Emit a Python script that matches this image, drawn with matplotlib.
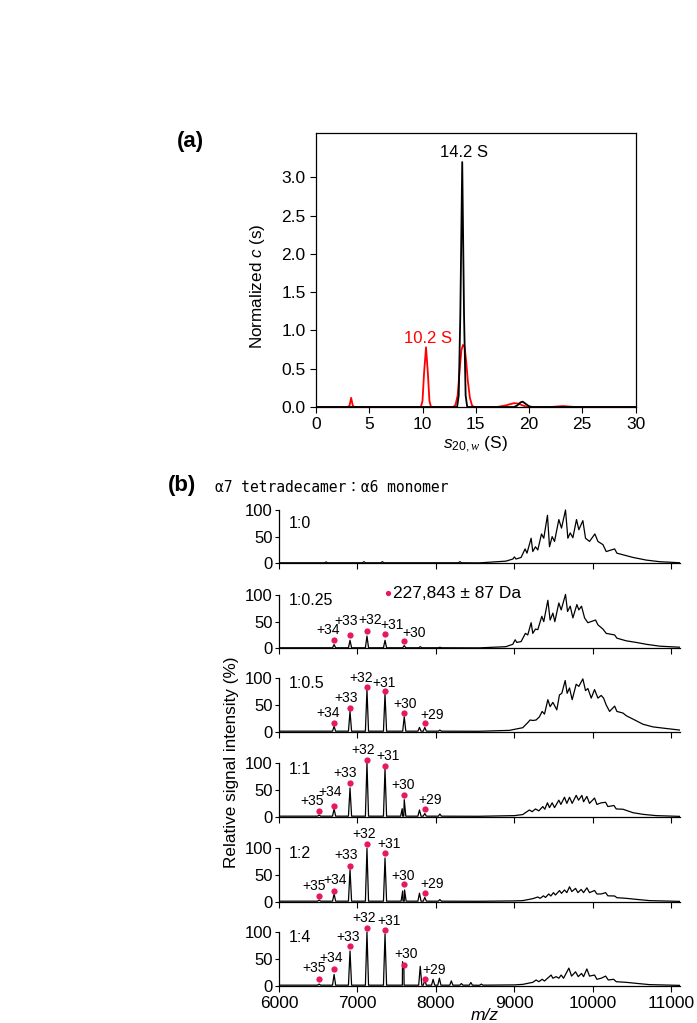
import numpy as np
import matplotlib
matplotlib.use('Agg')
import matplotlib.pyplot as plt

plt.rcParams['font.family'] = ['Liberation Sans', 'DejaVu Sans']
plt.rcParams['mathtext.fontset'] = 'custom'
plt.rcParams['mathtext.rm'] = 'Liberation Sans'
plt.rcParams['mathtext.sf'] = 'Liberation Sans:italic'
plt.rcParams['mathtext.it'] = 'Liberation Serif:italic'

# ---- (a) sedimentation coefficient distributions ----
s_black = [0, 13.25, 13.4, 13.55, 13.73, 13.9, 14.05, 14.2, 18.6, 18.9, 19.2, 19.4, 19.7, 20.0, 20.3, 30]
c_black = [0, 0, 0.15, 1.2, 3.2, 1.2, 0.15, 0, 0, 0.02, 0.06, 0.07, 0.04, 0.01, 0, 0]

s_red = [0, 3.0, 3.15, 3.3, 3.45, 3.6,
         9.85, 10.0, 10.15, 10.33, 10.5, 10.65, 10.8,
         12.9, 13.1, 13.3, 13.5, 13.65, 13.8, 13.95, 14.1, 14.25, 14.45, 14.65, 14.85,
         17.0, 17.8, 18.3, 18.6, 19.0, 19.4, 19.8, 20.2,
         22.0, 23.2, 24.3, 30]
c_red = [0, 0, 0.02, 0.12, 0.02, 0,
         0, 0.08, 0.45, 0.78, 0.45, 0.08, 0,
         0, 0.03, 0.15, 0.5, 0.74, 0.81, 0.79, 0.6, 0.35, 0.12, 0.02, 0,
         0, 0.02, 0.04, 0.05, 0.045, 0.02, 0.005, 0,
         0, 0.012, 0, 0]

# ---- (b) native mass spectra ----
samples = ['1:0', '1:0.25', '1:0.5', '1:1', '1:2', '1:4']
ion_labels = ['+35', '+34', '+33', '+32', '+31', '+30', '+29']
ion_mz = [6511, 6702, 6905, 7121, 7351, 7596, 7858]

# sharp peaks below 8600 m/z (position, relative intensity)
peak_mz = {
    '1:0': [6600, 7082, 7317, 8305],
    '1:0.25': [6702, 6905, 7121, 7351, 7596, 7800, 8050],
    '1:0.5': [6702, 6905, 7121, 7351, 7596, 7790, 7858, 8050],
    '1:1': [6511, 6702, 6905, 7121, 7351, 7570, 7596, 7790, 7858, 8050],
    '1:2': [6511, 6702, 6905, 7121, 7351, 7576, 7600, 7790, 7858, 8050],
    '1:4': [6511, 6702, 6905, 7121, 7351, 7574, 7592, 7800, 7858, 7964, 8044, 8196, 8324, 8445, 8578],
}
peak_h = {
    '1:0': [2.5, 3, 3, 3],
    '1:0.25': [7, 15, 23, 15, 5, 3, 2],
    '1:0.5': [10, 38, 79, 71, 28, 8, 8, 3],
    '1:1': [3, 14.5, 54, 101, 90, 15, 32, 12.6, 6, 5],
    '1:2': [3, 14.5, 60, 100, 82, 20, 22, 16, 8, 4],
    '1:4': [3, 21, 65, 100.6, 97, 45, 30, 36.5, 10, 12, 14, 9, 4, 6, 3],
}

# broad envelope of the tetradecamer (m/z, relative intensity)
env_mz = {
    '1:0': [8550, 8890, 8980, 9000, 9020, 9085, 9136, 9160, 9213, 9234, 9268, 9298, 9345, 9374, 9421,
            9447, 9481, 9511, 9566, 9600, 9651, 9681, 9711, 9745, 9791, 9821, 9872, 9906, 9957, 10025,
            10064, 10128, 10170, 10277, 10306, 10383, 10511, 10681, 10851, 11110],
    '1:0.25': [8550, 8890, 8979, 9009, 9030, 9085, 9140, 9170, 9213, 9234, 9268, 9298, 9349, 9374, 9426,
               9455, 9490, 9515, 9566, 9596, 9651, 9677, 9711, 9745, 9796, 9821, 9855, 9894, 9936, 10034,
               10064, 10128, 10170, 10277, 10306, 10425, 10553, 10681, 10851, 11110],
    '1:0.5': [8550, 8936, 9000, 9106, 9170, 9200, 9234, 9277, 9319, 9353, 9383, 9426, 9455, 9490, 9540,
              9574, 9604, 9647, 9672, 9702, 9736, 9787, 9821, 9872, 9906, 9936, 9979, 10021, 10064, 10106,
              10136, 10170, 10213, 10277, 10306, 10383, 10425, 10519, 10638, 10766, 10936, 11110],
    '1:1': [8550, 9000, 9106, 9191, 9226, 9268, 9311, 9362, 9387, 9421, 9447, 9481, 9511, 9566, 9592,
            9638, 9668, 9702, 9736, 9787, 9817, 9860, 9881, 9923, 9957, 10021, 10051, 10106, 10162, 10191,
            10268, 10298, 10383, 10511, 10638, 10808, 11110],
    '1:2': [8550, 9000, 9106, 9234, 9298, 9328, 9370, 9396, 9438, 9464, 9498, 9523, 9574, 9600, 9638,
            9668, 9702, 9732, 9779, 9809, 9851, 9881, 9923, 9957, 10021, 10051, 10106, 10162, 10191, 10277,
            10306, 10425, 10553, 10723, 11110],
    '1:4': [8550, 9000, 9106, 9234, 9277, 9311, 9353, 9383, 9468, 9490, 9532, 9566, 9596, 9626, 9694,
            9728, 9779, 9813, 9855, 9881, 9923, 9957, 10021, 10051, 10106, 10162, 10196, 10264, 10298, 10425,
            10553, 10723, 11110],
}
env_h = {
    '1:0': [0.8, 4, 8, 12, 8, 11, 27, 19, 47, 22, 31, 25, 55, 47, 90,
            31, 50, 41, 82, 66, 100, 47, 57, 48, 82, 63, 80, 47, 41, 55,
            41, 35, 22, 27, 19, 16, 11, 6, 3, 1],
    '1:0.25': [0.8, 3, 7.5, 16, 11, 12.6, 28, 25, 48, 28, 36, 35, 60, 50, 90,
               53, 66, 50, 85, 72, 101, 69, 79, 57, 82, 72, 79, 57, 48, 53,
               44, 36, 28, 25, 19, 14, 11, 7.5, 4, 2],
    '1:0.5': [0.8, 2.5, 4.4, 7.5, 17, 22, 21, 22, 28, 38, 33, 60, 47, 55, 41,
              69, 72, 96, 72, 82, 60, 89, 85, 99, 77, 81, 63, 79, 63, 68,
              63, 50, 38, 48, 38, 35, 30, 23, 14, 9, 6, 3],
    '1:1': [0.8, 2, 4, 12.6, 9.4, 14.5, 11, 19, 14, 26, 17, 26, 17, 31, 23,
            36.5, 25, 36.5, 25, 40, 31, 40, 28, 38, 25, 35, 23, 26, 27, 19,
            21, 14.5, 14, 7.5, 4.4, 2, 0.6],
    '1:2': [0.8, 1.5, 2, 5.7, 8.8, 6.3, 11, 8, 14.5, 10.7, 17, 12.6, 20.8, 15.7, 22,
            17, 28, 19, 25, 17, 23, 17, 26, 17, 21, 14.5, 14.5, 17, 11, 10.7,
            7.5, 6.3, 4.4, 2, 0.6],
    '1:4': [0.8, 1.5, 2.5, 6.3, 10.7, 7.5, 12, 8.8, 20, 14, 17, 14, 20, 14, 33,
            18, 26, 17, 23, 17, 31.4, 18, 20, 12, 14, 18, 10.7, 12, 7.5, 6.3,
            4.4, 2, 0.6],
}

# marker (dot) heights above each charge state; None = no marker
dot_h = {
    '1:0': [None] * 7,
    '1:0.25': [None, 16, 25, 32, 26, 14.5, None],
    '1:0.5': [None, 17, 45, 84, 76, 34.5, 17],
    '1:1': [11, 20, 63, 107, 96, 41.5, 14],
    '1:2': [11, 21, 67, 109, 92, 33, 16.4],
    '1:4': [13, 31, 73.6, 109, 104, 38, 12.6],
}
sample_label_y = {'1:0': 75, '1:0.25': 90, '1:0.5': 91, '1:1': 89, '1:2': 91, '1:4': 91}
mass_text = '227,843 ± 87 Da'

PINK = '#e8185c'

# label offsets (pixels) from each dot
label_offsets = {
    '1:0.25': [None, (-6, 9.3), (-3.6, 14), (3.4, 11), (7.3, 9.3), (10, 7.6), None],
    '1:0.5': [None, (-6, 9.7), (-3.6, 9.3), (-5.6, 9), (-1.4, 8.4), (1, 9.4), (7.6, 8)],
    '1:1': [(-7, 9.6), (-4, 13.6), (-5, 10), (-4, 9.3), (2.6, 9.3), (-1, 10), (5, 9.4)],
    '1:2': [(-5.3, 10.3), (0.7, 10.4), (-3.6, 10.7), (-3, 10), (3.6, 8.3), (-1, 8.3), (7, 9)],
    '1:4': [(-5, 10.7), (-3.3, 10.7), (-2, 9.7), (-3, 10), (4.3, 9), (2, 11.7), (9.3, 9.3)],
}


def build_trace(sample, base=1.0, half=20):
    xs = [6000]
    ys = [base]
    for m, h in zip(peak_mz[sample], peak_h[sample]):
        xs += [m - half, m, m + half]
        ys += [base, h, base]
    xs += env_mz[sample]
    ys += env_h[sample]
    order = np.argsort(xs, kind='stable')
    return np.array(xs)[order], np.array(ys)[order]


W, H = 697, 1023
fig = plt.figure(figsize=(W / 100, H / 100), dpi=100)


def px_axes(left, right, top, bottom):
    return fig.add_axes([left / W, 1 - bottom / H, (right - left) / W, (bottom - top) / H])


# ---------- panel (a) ----------
ax = px_axes(316, 635.5, 133, 407)
ax.plot(s_red, c_red, color='red', lw=1.3)
ax.plot(s_black, c_black, color='black', lw=1.3)
ax.set_xlim(0, 30)
ax.set_ylim(0, 3.58)
ax.set_xticks(np.arange(0, 31, 5))
ax.set_yticks(np.arange(0, 3.01, 0.5))
ax.set_yticklabels([f'{v:.1f}' for v in np.arange(0, 3.01, 0.5)])
ax.tick_params(direction='out', length=4, width=0.8, labelsize=12.5)
for sp in ax.spines.values():
    sp.set_linewidth(0.9)
ax.text(13.93, 3.32, '14.2 S', ha='center', va='center', fontsize=12)
ax.text(10.49, 0.90, '10.2 S', ha='center', va='center', fontsize=12, color='red')
fig.text(190 / W, 1 - 142 / H, '(a)', ha='center', va='center', fontsize=16, fontweight='bold')
fig.text(257.5 / W, 1 - 286 / H, 'Normalized $\\mathsf{c}$ (s)', rotation=90,
         ha='center', va='center', fontsize=12.3)
fig.text(475 / W, 1 - 444 / H, '$\\mathsf{s}_{\\mathit{20,w}}$ (S)', ha='center', va='center', fontsize=12.5)

# ---------- panel (b) ----------
baselines = [563.3, 648.3, 731.7, 816.7, 901.7, 985.7]
for i, sample in enumerate(samples):
    b = baselines[i]
    ax = px_axes(279, 680, b - 80, b)
    x, y = build_trace(sample)
    ax.plot(x, y, color='black', lw=0.9)
    ax.set_xlim(6000, 11110)
    ax.set_ylim(0, 150)
    ax.set_yticks([0, 50, 100])
    ax.set_xticks(np.arange(6000, 11001, 1000))
    ax.spines['top'].set_visible(False)
    ax.spines['right'].set_visible(False)
    ax.spines['left'].set_bounds(0, 100)
    ax.spines['left'].set_linewidth(0.9)
    ax.spines['bottom'].set_linewidth(0.9)
    ax.patch.set_alpha(0)
    ax.tick_params(axis='y', direction='out', length=3, width=0.8, labelsize=12, pad=1.5)
    ax.tick_params(axis='x', direction='out', length=4, width=0.8, labelsize=12.5)
    if i < len(samples) - 1:
        ax.set_xticklabels([])
    ax.text(0.024, sample_label_y[sample], sample, transform=ax.get_yaxis_transform(),
            ha='left', va='center', fontsize=11.5)

    for j, h in enumerate(dot_h[sample]):
        if h is None:
            continue
        ax.plot(ion_mz[j], h, 'o', color=PINK, ms=4.5, mec='none', clip_on=False)
        dx, dy = label_offsets[sample][j]
        ax.annotate(ion_labels[j], (ion_mz[j], h), xytext=(dx, dy), textcoords='offset pixels',
                    ha='center', va='center', fontsize=10, annotation_clip=False)

    if sample == '1:0.25':
        ax.plot(7395, 103, 'o', color=PINK, ms=3.8, mec='none', clip_on=False)
        ax.text(7447, 103, mass_text, ha='left', va='center', fontsize=12.5)

fig.text(182 / W, 1 - 486 / H, '(b)', ha='center', va='center', fontsize=16, fontweight='bold')
fig.text(215 / W, 1 - 487 / H, 'α7 tetradecamer：α6 monomer', ha='left', va='center',
         fontsize=10.5, family=['DejaVu Sans Mono', 'Noto Sans CJK JP'])
fig.text(232 / W, 1 - 762 / H, 'Relative signal intensity (%)', rotation=90,
         ha='center', va='center', fontsize=12.3)
fig.text(485 / W, 1 - 1015 / H, 'm/z', ha='center', va='center', fontsize=12.5, fontstyle='italic')

fig.savefig('out.png', dpi=100)
